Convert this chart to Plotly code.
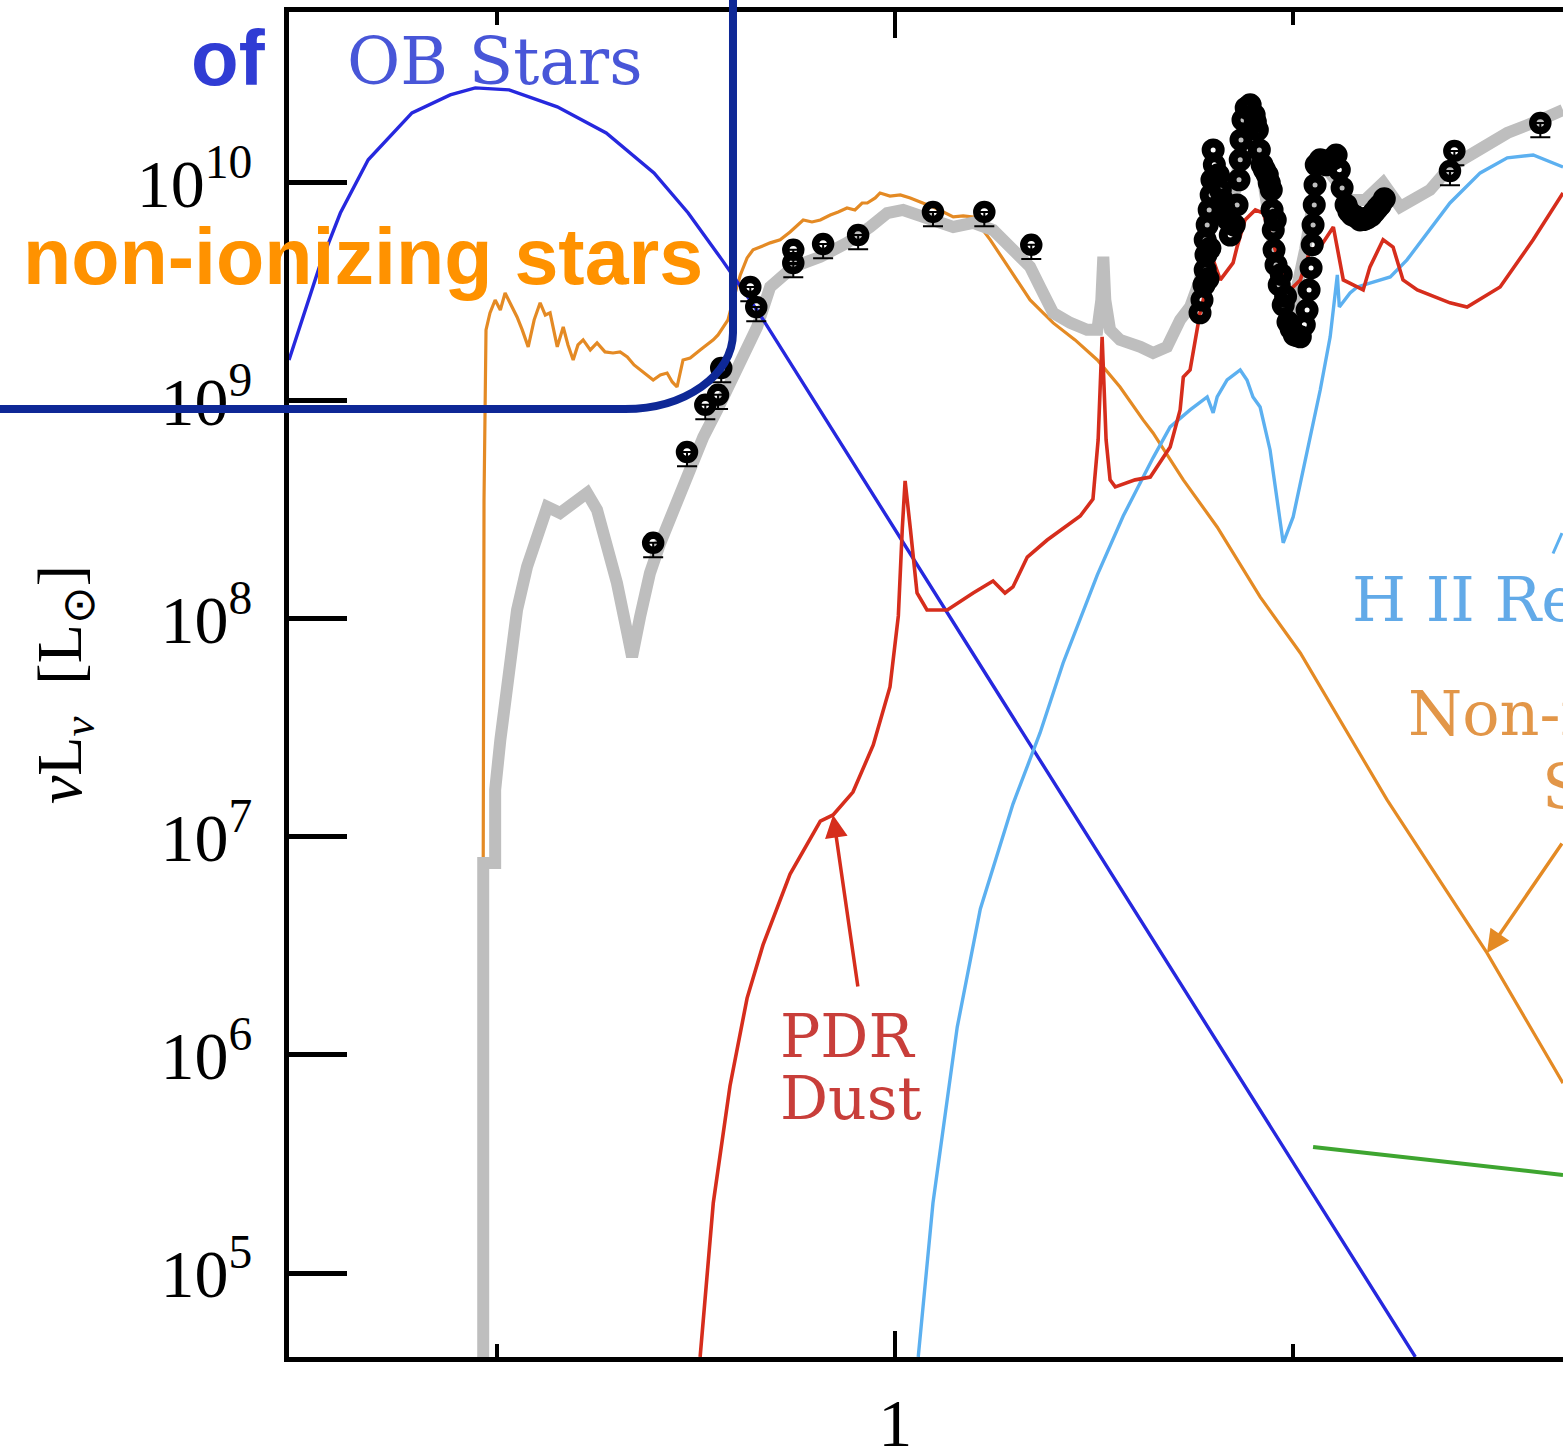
import plotly.graph_objects as go

# ---------------- data: log10(wavelength / micron) and log10(nu L_nu / L_sun) ----------------
ob_logwl = [-1.523, -1.495, -1.445, -1.394, -1.324, -1.214, -1.118, -1.055, -0.970, -0.849,
            -0.726, -0.606, -0.520, -0.435, -0.339, 0.264, 0.766, 1.307]
ob_logL = [9.188, 9.349, 9.624, 9.862, 10.106, 10.321, 10.404, 10.436, 10.427, 10.349,
           10.229, 10.046, 9.862, 9.647, 9.394, 7.642, 6.183, 4.615]

nonion_logwl = [-1.035, -1.033, -1.028, -1.018, -1.005, -0.992, -0.980, -0.965, -0.950, -0.937,
                -0.922, -0.907, -0.892, -0.879, -0.867, -0.849, -0.834, -0.822, -0.809, -0.797,
                -0.784, -0.766, -0.749, -0.729, -0.709, -0.691, -0.673, -0.656, -0.641, -0.623,
                -0.608, -0.590, -0.573, -0.560, -0.548, -0.533, -0.515, -0.490, -0.472, -0.457,
                -0.445, -0.432, -0.420, -0.407, -0.389, -0.372, -0.357, -0.339, -0.314, -0.289,
                -0.264, -0.231, -0.209, -0.188, -0.163, -0.143, -0.121, -0.101, -0.083, -0.070,
                -0.050, -0.038, -0.013, 0.013, 0.038, 0.063, 0.101, 0.146, 0.171, 0.196,
                0.239, 0.289, 0.339, 0.397, 0.452, 0.508, 0.565, 0.623, 0.648, 0.724,
                0.809, 0.917, 1.018, 1.236, 1.487, 1.678]
nonion_logL = [6.894, 8.546, 9.326, 9.404, 9.463, 9.417, 9.495, 9.440, 9.385, 9.326,
               9.248, 9.372, 9.450, 9.394, 9.404, 9.248, 9.339, 9.257, 9.188, 9.257,
               9.280, 9.234, 9.266, 9.225, 9.220, 9.225, 9.202, 9.165, 9.142, 9.115,
               9.096, 9.119, 9.128, 9.087, 9.064, 9.188, 9.197, 9.234, 9.257, 9.280,
               9.303, 9.339, 9.372, 9.463, 9.578, 9.656, 9.693, 9.706, 9.725, 9.739,
               9.775, 9.830, 9.821, 9.830, 9.853, 9.867, 9.885, 9.876, 9.908, 9.908,
               9.931, 9.954, 9.940, 9.945, 9.931, 9.913, 9.885, 9.844, 9.849, 9.844,
               9.739, 9.601, 9.463, 9.358, 9.280, 9.188, 9.064, 8.913, 8.853, 8.638,
               8.422, 8.101, 7.844, 7.170, 6.468, 5.871]

total_logwl = [-1.035, -1.035, -1.005, -1.005, -0.992, -0.975, -0.962, -0.950, -0.925, -0.899,
               -0.874, -0.842, -0.809, -0.774, -0.749, -0.724, -0.699, -0.673, -0.661, -0.641,
               -0.616, -0.590, -0.565, -0.540, -0.515, -0.482, -0.447, -0.415, -0.382, -0.347,
               -0.314, -0.256, -0.188, -0.121, -0.063, -0.020, 0.020, 0.080, 0.146, 0.196,
               0.246, 0.296, 0.339, 0.364, 0.397, 0.440, 0.482, 0.508, 0.518, 0.523,
               0.528, 0.540, 0.565, 0.616, 0.648, 0.683, 0.716, 0.741, 0.766, 0.804,
               0.842, 0.879, 0.917, 0.955, 0.992, 1.030, 1.068, 1.106, 1.143, 1.181,
               1.226, 1.269, 1.312, 1.344, 1.394, 1.470, 1.538, 1.621, 1.678]
total_logL = [4.615, 6.881, 6.881, 7.216, 7.445, 7.734, 7.858, 8.041, 8.239, 8.376,
              8.514, 8.486, 8.532, 8.578, 8.500, 8.349, 8.165, 7.936, 7.826, 8.009,
              8.211, 8.349, 8.468, 8.560, 8.697, 8.835, 8.959, 9.083, 9.202, 9.339,
              9.523, 9.615, 9.661, 9.725, 9.798, 9.862, 9.876, 9.844, 9.798, 9.817,
              9.784, 9.693, 9.615, 9.523, 9.404, 9.358, 9.326, 9.326, 9.463, 9.661,
              9.463, 9.326, 9.280, 9.248, 9.220, 9.248, 9.372, 9.431, 9.555, 10.014,
              9.784, 10.335, 10.106, 9.647, 9.372, 9.693, 10.106, 10.014, 9.922, 9.922,
              10.000, 9.890, 9.936, 9.968, 10.073, 10.160, 10.229, 10.289, 10.335]

pdr_logwl = [-0.490, -0.457, -0.415, -0.372, -0.332, -0.264, -0.188, -0.156, -0.106, -0.055,
             -0.013, 0.008, 0.018, 0.025, 0.038, 0.055, 0.080, 0.131, 0.196, 0.246,
             0.276, 0.296, 0.332, 0.382, 0.465, 0.497, 0.510, 0.520, 0.530, 0.540,
             0.553, 0.603, 0.641, 0.691, 0.716, 0.724, 0.741, 0.759, 0.766, 0.799,
             0.817, 0.849, 0.859, 0.879, 0.905, 0.925, 0.955, 0.992, 1.018, 1.043,
             1.068, 1.101, 1.126, 1.161, 1.176, 1.193, 1.226, 1.251, 1.276, 1.312,
             1.394, 1.437, 1.520, 1.603, 1.678]
pdr_logL = [4.615, 5.321, 5.858, 6.261, 6.505, 6.830, 7.073, 7.101, 7.206, 7.422,
            7.688, 8.014, 8.417, 8.633, 8.417, 8.119, 8.041, 8.041, 8.119, 8.174,
            8.119, 8.147, 8.284, 8.362, 8.472, 8.550, 8.821, 9.294, 8.821, 8.638,
            8.606, 8.638, 8.651, 8.789, 8.959, 9.110, 9.142, 9.339, 9.404, 9.647,
            9.555, 9.633, 9.706, 9.830, 9.876, 9.862, 9.693, 9.509, 9.555, 9.693,
            9.706, 9.798, 9.555, 9.523, 9.509, 9.615, 9.739, 9.706, 9.555, 9.509,
            9.450, 9.431, 9.523, 9.739, 9.954]

hii_logwl = [0.058, 0.095, 0.156, 0.214, 0.296, 0.364, 0.422, 0.508, 0.573, 0.648,
             0.691, 0.741, 0.784, 0.799, 0.809, 0.834, 0.867, 0.884, 0.899, 0.917,
             0.942, 0.975, 1.000, 1.035, 1.068, 1.093, 1.111, 1.116, 1.143, 1.161,
             1.193, 1.244, 1.286, 1.337, 1.394, 1.470, 1.538, 1.603, 1.678]
hii_logL = [4.615, 5.321, 6.128, 6.670, 7.151, 7.477, 7.798, 8.202, 8.472, 8.739,
            8.881, 8.959, 9.018, 8.945, 9.018, 9.096, 9.142, 9.096, 9.018, 8.972,
            8.775, 8.349, 8.468, 8.775, 9.050, 9.294, 9.578, 9.431, 9.495, 9.523,
            9.541, 9.569, 9.647, 9.771, 9.908, 10.046, 10.115, 10.128, 10.073]

radio_logwl = [1.050, 1.678]
radio_logL = [5.578, 5.450]

phot_logwl = [-0.608, -0.523, -0.477, -0.445, -0.437, -0.364, -0.349, -0.256, -0.256, -0.181,
              -0.093, 0.095, 0.224, 0.342, 1.394, 1.405, 1.621]
phot_logL = [8.349, 8.766, 8.982, 9.028, 9.151, 9.523, 9.431, 9.693, 9.633, 9.720,
             9.761, 9.867, 9.867, 9.716, 10.055, 10.147, 10.275]

irs_logwl = [0.766, 0.771, 0.776, 0.779, 0.781, 0.779, 0.784, 0.789, 0.794, 0.796,
             0.802, 0.799, 0.812, 0.822, 0.832, 0.842, 0.852, 0.859, 0.864, 0.867,
             0.869, 0.874, 0.882, 0.892, 0.902, 0.910, 0.915, 0.922, 0.935, 0.945,
             0.947, 0.950, 0.952, 0.957, 0.965, 0.975, 0.987, 1.003, 1.018, 1.028,
             1.035, 1.040, 1.045, 1.048, 1.050, 1.053, 1.055, 1.058, 1.068, 1.083,
             1.095, 1.108, 1.116, 1.123, 1.133, 1.148, 1.168, 1.186, 1.204, 1.219,
             1.229,
             0.817, 0.827, 0.837, 0.905, 0.928, 0.940, 0.955, 0.970, 0.981, 0.995,
             1.010, 1.078, 1.101, 1.140, 1.158, 1.177, 1.196, 1.212, 0.786, 0.791]
irs_logL = [9.404, 9.463, 9.532, 9.601, 9.670, 9.739, 9.807, 9.876, 9.945, 10.014,
            10.083, 10.151, 10.037, 9.922, 9.853, 9.761, 9.807, 9.899, 10.014, 10.106,
            10.197, 10.289, 10.344, 10.358, 10.312, 10.243, 10.151, 10.083, 10.037, 9.968,
            9.876, 9.784, 9.693, 9.624, 9.532, 9.440, 9.362, 9.303, 9.294, 9.349,
            9.417, 9.509, 9.610, 9.716, 9.807, 9.899, 9.991, 10.083, 10.106, 10.083,
            10.106, 10.128, 10.060, 9.977, 9.899, 9.853, 9.830, 9.839, 9.867, 9.899,
            9.927,
            9.968, 9.876, 9.830, 10.280, 10.060, 10.000, 9.830, 9.580, 9.480, 9.330,
            9.300, 10.100, 10.110, 9.870, 9.845, 9.832, 9.850, 9.885, 9.560, 9.700]

y_tick_values = [1e5, 1e6, 1e7, 1e8, 1e9, 1e10]
y_tick_labels = ["10<sup>5</sup>", "10<sup>6</sup>", "10<sup>7</sup>",
                 "10<sup>8</sup>", "10<sup>9</sup>", "10<sup>10</sup>"]
x_tick_values = [1]
x_tick_labels = ["1"]
x_minor_values = [0.1, 10]


def lin(vals):
    return [10 ** v for v in vals]


fig = go.Figure()


def add_line(lw, ll, color, width):
    fig.add_trace(go.Scatter(x=lin(lw), y=lin(ll), mode="lines",
                             line=dict(color=color, width=width, shape="linear"),
                             hoverinfo="skip", showlegend=False))


add_line(nonion_logwl, nonion_logL, "rgb(228,138,36)", 3.2)
add_line(total_logwl, total_logL, "rgb(190,190,190)", 12)
add_line(ob_logwl, ob_logL, "rgb(38,40,222)", 3.4)
add_line(hii_logwl, hii_logL, "rgb(92,176,240)", 3.4)
add_line(pdr_logwl, pdr_logL, "rgb(214,45,28)", 3.6)
add_line(radio_logwl, radio_logL, "rgb(62,165,48)", 4)

fig.add_trace(go.Scatter(
    x=lin(phot_logwl), y=lin(phot_logL), mode="markers",
    marker=dict(symbol="circle-open", size=15, color="black", line=dict(width=7.5, color="black")),
    error_y=dict(type="percent", symmetric=False, value=0, valueminus=14,
                 color="black", thickness=2, width=10),
    hoverinfo="skip", showlegend=False))
fig.add_trace(go.Scatter(
    x=lin(irs_logwl), y=lin(irs_logL), mode="markers",
    marker=dict(symbol="circle-open", size=14, color="black", line=dict(width=9, color="black")),
    hoverinfo="skip", showlegend=False))

label_font = "DejaVu Serif"


def label(x, y, text, color, size=62, xanchor="left"):
    return dict(x=x, y=y, xref="x", yref="y", text=text, showarrow=False,
                font=dict(family=label_font, size=size, color=color),
                xanchor=xanchor, yanchor="middle")


annotations = [
    label(-1.005, 10.555, "OB Stars", "rgb(72,86,216)", size=65, xanchor="center"),
    label(-0.294, 8.0 - (1036 - 619) / 218, "PDR", "rgb(200,62,58)", size=60),
    label(-0.294, 8.0 - (1098 - 619) / 218, "Dust", "rgb(200,62,58)", size=60),
    label(1.143, 8.087, "H II Region", "rgb(98,170,232)", size=62),
    label(1.283, 8.0 - (714 - 619) / 218, "Non-ionizing", "rgb(226,150,72)", size=62),
    label(1.620, 8.0 - (787 - 619) / 218, "Stars", "rgb(226,150,72)", size=62),
    # arrows
    dict(x=-0.156, y=7.101, xref="x", yref="y", text="", showarrow=True, ax=25, ay=173,
         arrowhead=2, arrowsize=1.3, arrowwidth=3.5, arrowcolor="rgb(214,45,28)", standoff=0),
    dict(x=1.487, y=6.468, xref="x", yref="y", text="", showarrow=True, ax=113, ay=-111,
         arrowhead=2, arrowsize=1.3, arrowwidth=3.5, arrowcolor="rgb(228,138,36)", standoff=0),
    dict(x=0.9995, y=(1357 - 533) / 1345, xref="paper", yref="paper", text="", showarrow=True, ax=-10, ay=22,
         arrowhead=0, arrowwidth=3, arrowcolor="rgb(92,176,240)", standoff=0),
    # slide overlay text
    dict(x=(268 - 289) / 1274, y=(1357 - 58) / 1345, xref="paper", yref="paper", text="<b>of</b>",
         showarrow=False, font=dict(family="Liberation Sans", size=78, color="rgb(48,60,212)"),
         xanchor="right", yanchor="middle"),
    dict(x=(363 - 289) / 1274, y=(1357 - 256) / 1345, xref="paper", yref="paper",
         text="<b>non-ionizing stars</b>", showarrow=False,
         font=dict(family="Liberation Sans", size=79, color="rgb(255,146,0)"),
         xanchor="center", yanchor="middle"),
]

frame_path = ("M 0.3485,1.03 L 0.3485,0.7613 C 0.3485,0.7301 0.3108,0.7048 0.2637,0.7048 "
              "L -0.25,0.7048")
shapes = [dict(type="path", xref="paper", yref="paper", path=frame_path,
               line=dict(color="rgb(14,40,150)", width=8), layer="above")]

tick_font = dict(family="Liberation Serif", size=68, color="black")

fig.update_layout(
    width=1563, height=1454,
    margin=dict(l=289, r=0, t=12, b=97, pad=0, autoexpand=False),
    paper_bgcolor="white", plot_bgcolor="white",
    showlegend=False,
    annotations=annotations,
    shapes=shapes,
    xaxis=dict(type="log", range=[-1.523, 1.678], tickmode="array", automargin=False,
               tickvals=x_tick_values, ticktext=x_tick_labels,
               ticks="inside", ticklen=26, tickwidth=4, tickcolor="black",
               showline=True, linecolor="black", linewidth=5, mirror="ticks",
               showgrid=False, zeroline=False, tickfont=tick_font, ticklabelstandoff=2,
               minor=dict(tickmode="array", tickvals=x_minor_values, ticks="inside",
                          ticklen=13, tickwidth=4, tickcolor="black", showgrid=False)),
    yaxis=dict(type="log", range=[4.6147, 10.784], tickmode="array", automargin=False,
               tickvals=y_tick_values, ticktext=y_tick_labels,
               ticks="inside", ticklen=58, tickwidth=5, tickcolor="black",
               showline=True, linecolor="black", linewidth=5, mirror=False,
               showgrid=False, zeroline=False, tickfont=tick_font, ticklabelstandoff=18,
               title=dict(text="<i>ν</i>L<sub><i>ν</i></sub>  [L<sub>⊙</sub>]",
                          font=dict(family="Liberation Serif", size=64, color="black"),
                          standoff=36)),
)

fig.write_html("out.html")
